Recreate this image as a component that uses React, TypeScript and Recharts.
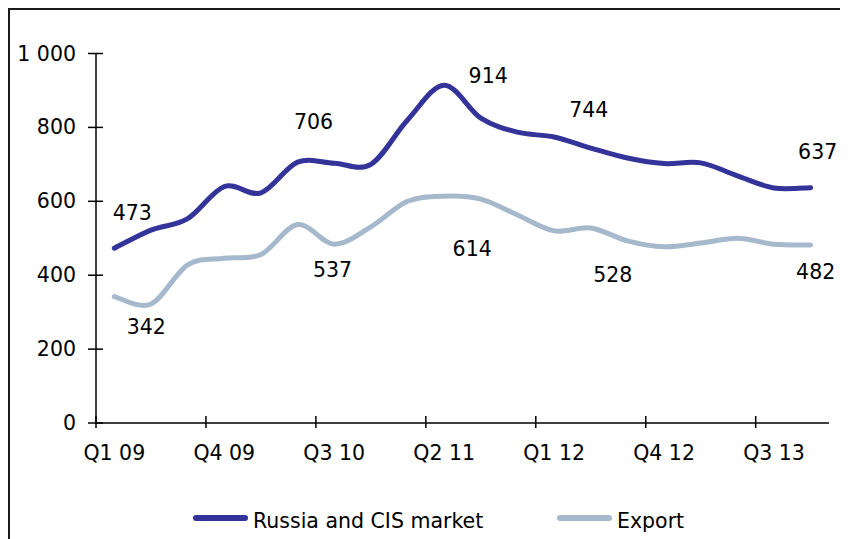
import React from 'react';
import { LineChart, Line, XAxis, YAxis, Legend, LabelList } from 'recharts';

const categories = [
  'Q1 09', 'Q2 09', 'Q3 09', 'Q4 09',
  'Q1 10', 'Q2 10', 'Q3 10', 'Q4 10',
  'Q1 11', 'Q2 11', 'Q3 11', 'Q4 11',
  'Q1 12', 'Q2 12', 'Q3 12', 'Q4 12',
  'Q1 13', 'Q2 13', 'Q3 13', 'Q4 13',
];
const russiaCis = [473, 522, 553, 640, 623, 706, 703, 700, 820, 914, 825, 787, 774, 744, 717, 702, 704, 669, 636, 637];
const exportValues = [342, 322, 428, 446, 456, 537, 484, 531, 600, 614, 606, 563, 520, 528, 493, 477, 487, 500, 484, 482];
const seriesNames = ['Russia and CIS market', 'Export'];
const yTicks = [0, 200, 400, 600, 800, 1000];
const xLabelTicks = [0, 3, 6, 9, 12, 15, 18];
const labeledPoints = [0, 5, 9, 13, 19];

const data = categories.map((c, i) => ({ idx: i, cat: c, russia: russiaCis[i], exp: exportValues[i] }));

// layout constants
const CHART_W = 838;
const CHART_H = 529;
const Y_AXIS_W = 86;
const MARGIN = { top: 43.5, right: 19, left: 0, bottom: 76 };
const PLOT_W = CHART_W - Y_AXIS_W - MARGIN.left - MARGIN.right;
const HALF_BAND = PLOT_W / categories.length / 2;
const FONT = '"DejaVu Sans", Verdana, sans-serif';
const FONT_SIZE = 20.5;
const DARK = '#333399';
const LIGHT = '#A6B9CC';

const labelOffsets: Record<string, Record<number, [number, number]>> = {
  russia: { 0: [18, -35], 5: [16, -40], 9: [44, -9], 13: [-2, -38], 19: [7, -36] },
  exp: { 0: [32, 30], 5: [35, 45], 9: [28, 53], 13: [22, 47], 19: [5, 27] },
};

// Excel-like smoothed line (Catmull-Rom bezier)
const smoothCurve = (context: any) => {
  let pts: [number, number][] = [];
  return {
    areaStart() {},
    areaEnd() {},
    lineStart() {
      pts = [];
    },
    lineEnd() {
      if (!pts.length) return;
      context.moveTo(pts[0][0], pts[0][1]);
      for (let i = 0; i < pts.length - 1; i++) {
        const p0 = pts[Math.max(0, i - 1)];
        const p1 = pts[i];
        const p2 = pts[i + 1];
        const p3 = pts[Math.min(pts.length - 1, i + 2)];
        context.bezierCurveTo(
          p1[0] + (p2[0] - p0[0]) / 6,
          p1[1] + (p2[1] - p0[1]) / 6,
          p2[0] - (p3[0] - p1[0]) / 6,
          p2[1] - (p3[1] - p1[1]) / 6,
          p2[0],
          p2[1]
        );
      }
    },
    point(x: number, y: number) {
      pts.push([+x, +y]);
    },
  };
};

const fmt = (v: number) => String(v).replace(/\B(?=(\d{3})+(?!\d))/g, ' ');

const XTick = (props: any) => {
  const { x, y, payload } = props;
  return (
    <g>
      <line x1={x - HALF_BAND} x2={x - HALF_BAND} y1={y - 7} y2={y + 5} stroke="#000" strokeWidth={1.5} />
      <text x={x} y={y + 37} textAnchor="middle" fontFamily={FONT} fontSize={FONT_SIZE} fill="#000">
        {categories[payload.value]}
      </text>
    </g>
  );
};

const YTick = (props: any) => {
  const { x, y, payload } = props;
  return (
    <g>
      <line x1={x - 8} x2={x + 7} y1={y} y2={y} stroke="#000" strokeWidth={1.5} />
      <text x={x - 20} y={y + 7} textAnchor="end" fontFamily={FONT} fontSize={FONT_SIZE} fill="#000">
        {fmt(payload.value)}
      </text>
    </g>
  );
};

const makeLabel = (key: string) => (props: any) => {
  const { x, y, value, index } = props;
  if (!labeledPoints.includes(index)) return null;
  const [dx, dy] = labelOffsets[key][index] || [0, -20];
  return (
    <text
      key={`${key}-${index}`}
      x={x + dx}
      y={y + dy + 7}
      textAnchor="middle"
      fontFamily={FONT}
      fontSize={FONT_SIZE}
      fill="#000"
    >
      {value}
    </text>
  );
};

const LEGEND_X = [183, 547];
const LegendContent = (props: any) => {
  const items = [...(props.payload || [])].sort(
    (a: any, b: any) => seriesNames.indexOf(a.value) - seriesNames.indexOf(b.value)
  );
  return (
    <div style={{ position: 'relative', width: CHART_W, height: 0 }}>
      <svg
        width={CHART_W}
        height={CHART_H}
        style={{ position: 'absolute', left: 0, top: 0, overflow: 'visible', pointerEvents: 'none' }}
      >
        {items.map((p: any, i: number) => (
          <g key={p.value}>
            <line
              x1={LEGEND_X[i] + 3}
              x2={LEGEND_X[i] + 52}
              y1={508}
              y2={508}
              stroke={p.color}
              strokeWidth={6}
              strokeLinecap="round"
            />
            <text x={LEGEND_X[i] + 60} y={518} fontFamily={FONT} fontSize={FONT_SIZE} fill="#000">
              {p.value}
            </text>
          </g>
        ))}
      </svg>
    </div>
  );
};

export default function App() {
  return (
    <div
      style={{
        width: CHART_W,
        height: CHART_H,
        borderTop: '2px solid #1a1a1a',
        borderLeft: '2px solid #1a1a1a',
        background: '#fff',
      }}
    >
      <LineChart width={CHART_W} height={CHART_H} data={data} margin={MARGIN}>
        <XAxis
          type="number"
          dataKey="idx"
          domain={[-0.5, 19.5]}
          ticks={xLabelTicks}
          interval={0}
          allowDecimals
          tickLine={false}
          tickSize={0}
          tickMargin={0}
          axisLine={{ stroke: '#000', strokeWidth: 1.5 }}
          height={40}
          tick={<XTick />}
        />
        <YAxis
          type="number"
          domain={[0, 1000]}
          ticks={yTicks}
          interval={0}
          tickLine={false}
          tickSize={0}
          tickMargin={0}
          axisLine={{ stroke: '#000', strokeWidth: 1.5 }}
          width={Y_AXIS_W}
          tick={<YTick />}
        />
        <Legend
          content={<LegendContent />}
          wrapperStyle={{ position: 'absolute', left: 0, top: 0, width: CHART_W, height: 0 }}
        />
        <Line
          dataKey="russia"
          name={seriesNames[0]}
          stroke={DARK}
          strokeWidth={5}
          dot={false}
          activeDot={false}
          type={smoothCurve as any}
          strokeLinecap="round"
          strokeLinejoin="round"
          isAnimationActive={false}
        >
          <LabelList dataKey="russia" content={makeLabel('russia')} />
        </Line>
        <Line
          dataKey="exp"
          name={seriesNames[1]}
          stroke={LIGHT}
          strokeWidth={5}
          dot={false}
          activeDot={false}
          type={smoothCurve as any}
          strokeLinecap="round"
          strokeLinejoin="round"
          isAnimationActive={false}
        >
          <LabelList dataKey="exp" content={makeLabel('exp')} />
        </Line>
      </LineChart>
    </div>
  );
}
